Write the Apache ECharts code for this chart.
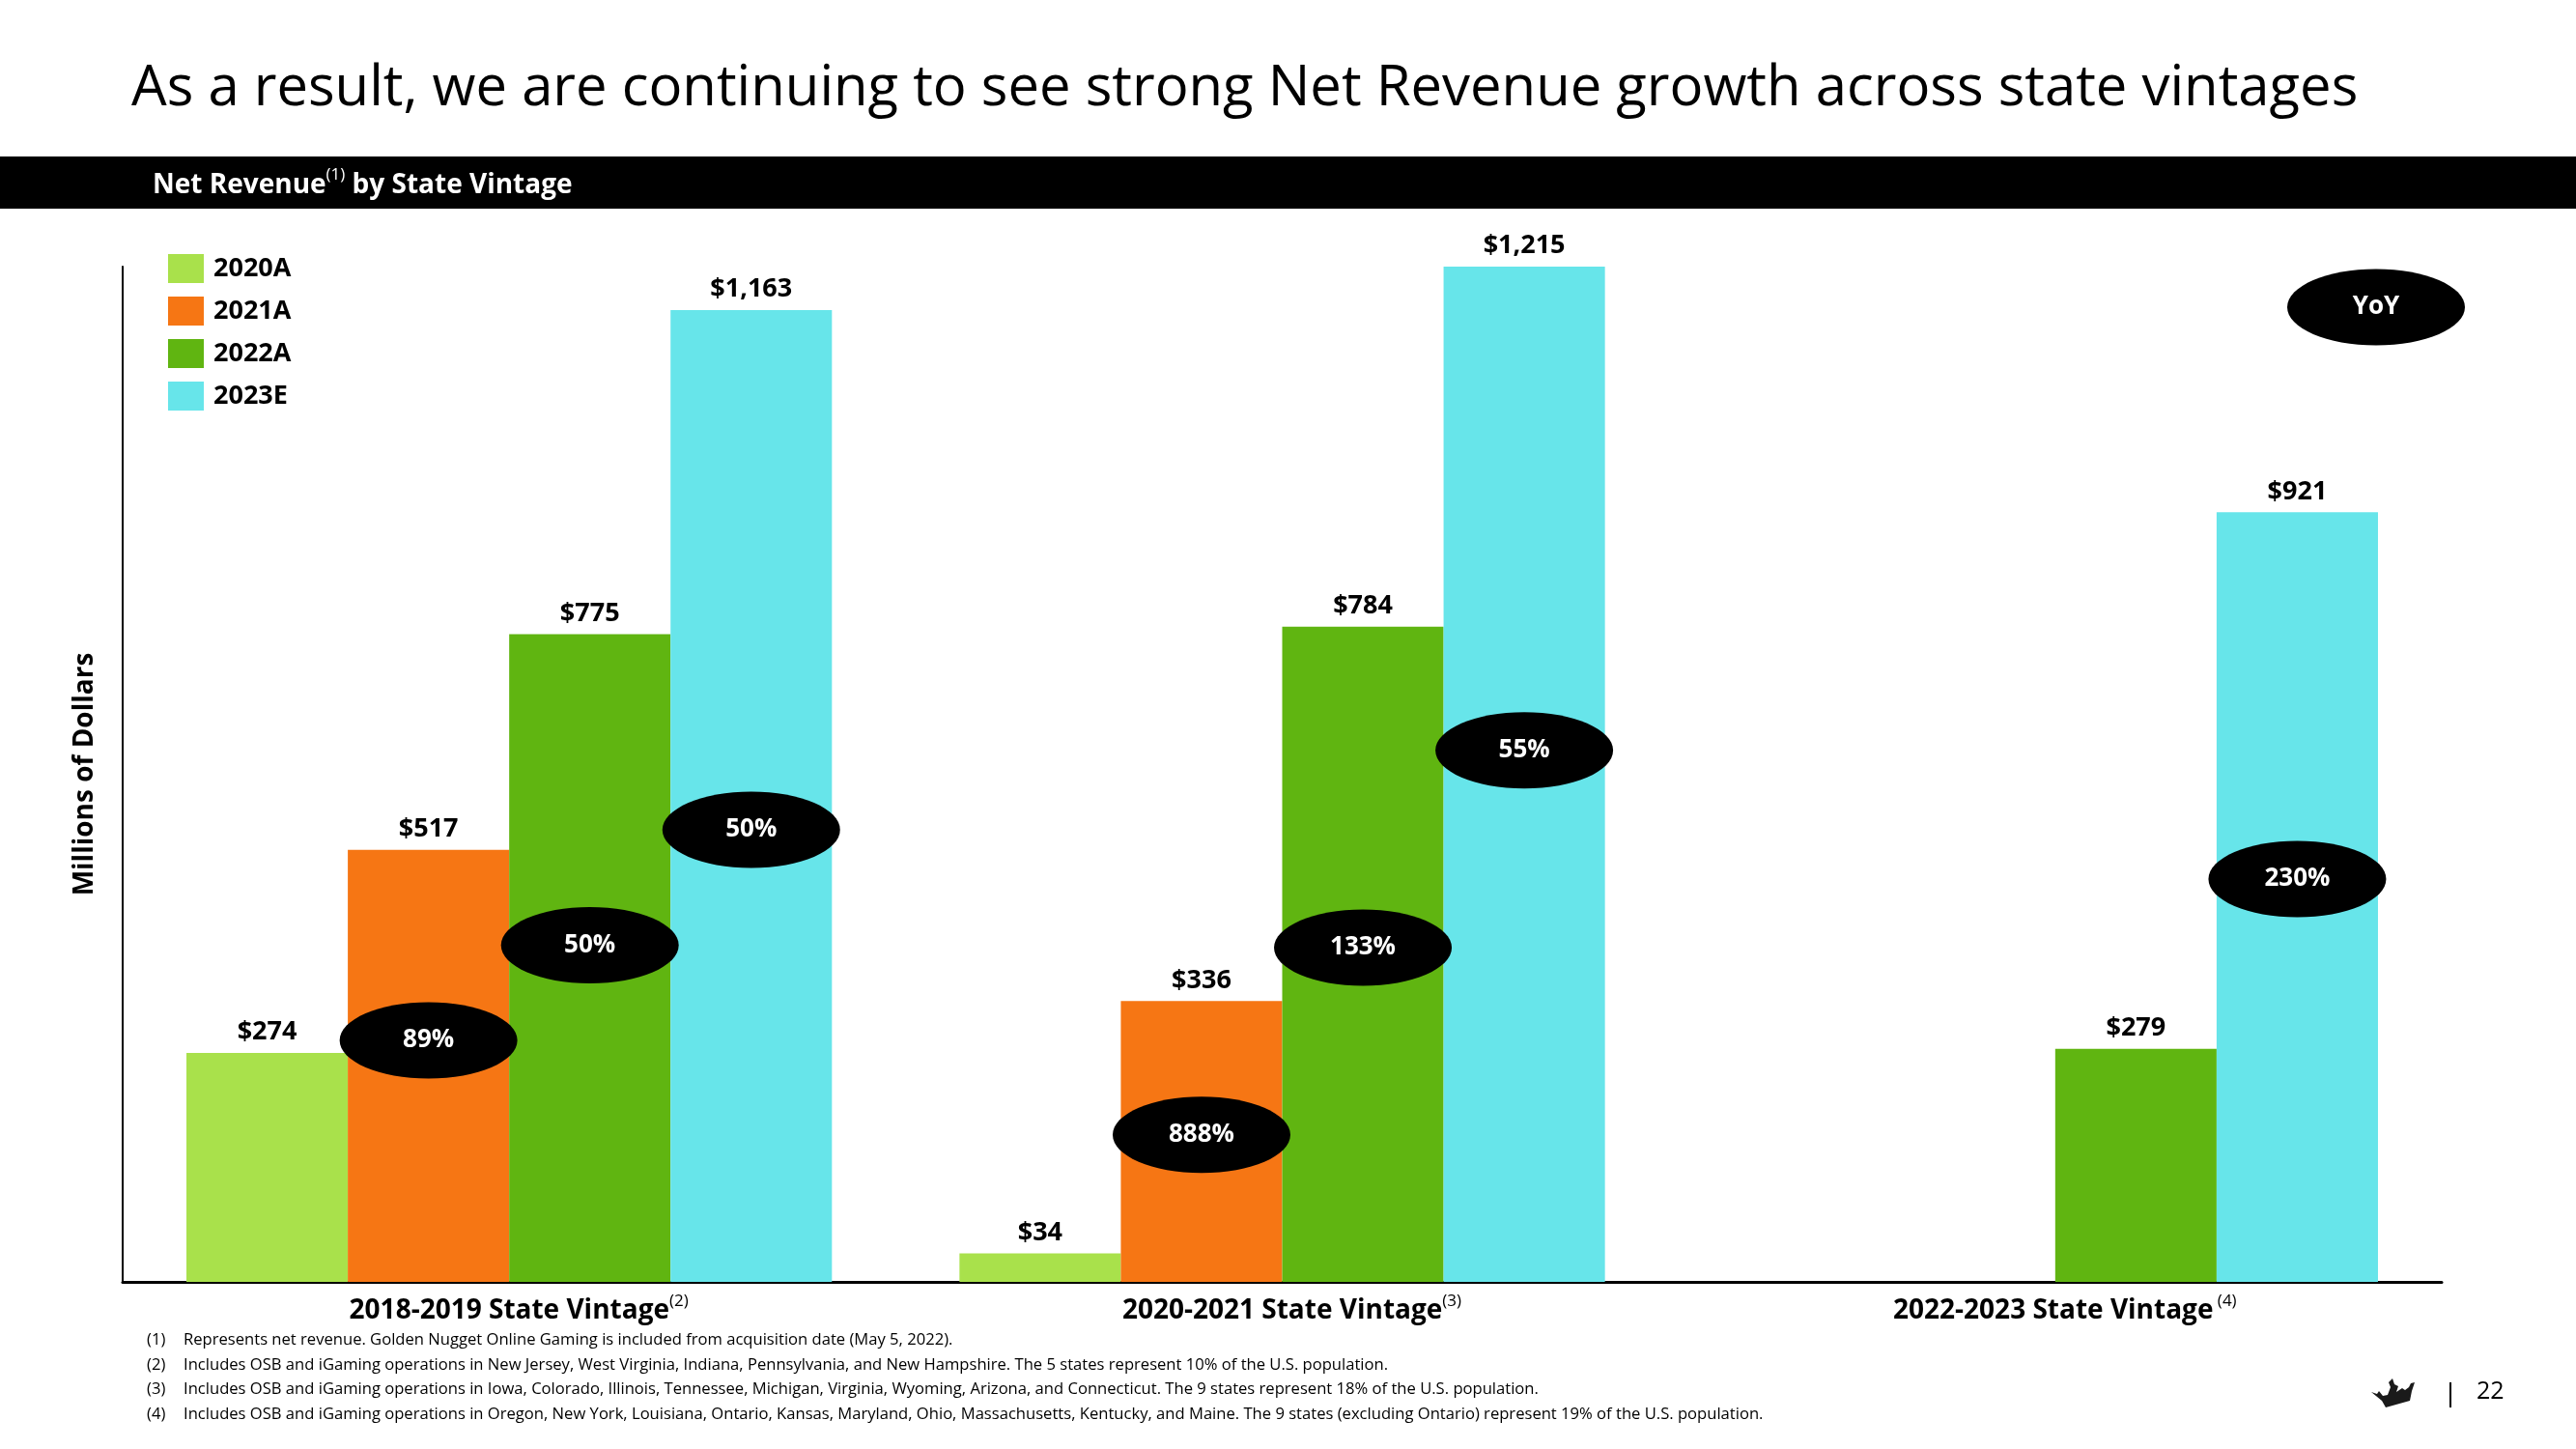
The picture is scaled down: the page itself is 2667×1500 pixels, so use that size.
<!DOCTYPE html>
<html><head><meta charset="utf-8">
<script src="https://cdn.jsdelivr.net/npm/echarts@6/dist/echarts.min.js"></script>
<style>html,body{margin:0;padding:0;background:#fff}#c{width:2667px;height:1500px}</style>
</head><body><div id="c"></div>
<script>
const categories = ['2018-2019 State Vintage', '2020-2021 State Vintage', '2022-2023 State Vintage'];
const categoryNotes = ['(2)', '(3)', ' (4)'];
const seriesNames = ['2020A', '2021A', '2022A', '2023E'];
const rev2020A = [274, 34, null];
const rev2021A = [517, 336, null];
const rev2022A = [775, 784, 279];
const rev2023E = [1163, 1215, 921];
const yoyCategoryIndex = [0, 0, 0, 1, 1, 1, 2];
const yoySeriesIndex = [1, 2, 3, 1, 2, 3, 3];
const yoyText = ['89%', '50%', '50%', '888%', '133%', '55%', '230%'];
const yoyLevel = [289, 403, 541, 176, 400, 636, 482];
const footnotes = [
  'Represents net revenue. Golden Nugget Online Gaming is included from acquisition date (May 5, 2022).',
  'Includes OSB and iGaming operations in New Jersey, West Virginia, Indiana, Pennsylvania, and New Hampshire. The 5 states represent 10% of the U.S. population.',
  'Includes OSB and iGaming operations in Iowa, Colorado, Illinois, Tennessee, Michigan, Virginia, Wyoming, Arizona, and Connecticut. The 9 states represent 18% of the U.S. population.',
  'Includes OSB and iGaming operations in Oregon, New York, Louisiana, Ontario, Kansas, Maryland, Ohio, Massachusetts, Kentucky, and Maine. The 9 states (excluding Ontario) represent 19% of the U.S. population.'
];
const colors = ['#A9E14B', '#F67614', '#60B511', '#67E5EA'];
const FONT = '"Open Sans", "Noto Sans", sans-serif';
const GAP = 0.165;

const chart = echarts.init(document.getElementById('c'), null, {renderer: 'canvas'});
const seriesData = [rev2020A, rev2021A, rev2022A, rev2023E];

const barSeries = seriesData.map((d, i) => ({
  name: seriesNames[i],
  type: 'bar',
  data: d,
  barGap: '0%',
  barCategoryGap: (GAP * 100) + '%',
  itemStyle: {color: colors[i]},
  label: {
    show: true, position: 'top', distance: 8,
    formatter: p => p.value == null ? '' : '$' + p.value.toLocaleString('en-US'),
    fontFamily: FONT, fontWeight: 'bold', fontSize: 27, color: '#000'
  }
}));

const yoyData = yoyText.map((t, i) => [yoyCategoryIndex[i], yoySeriesIndex[i], yoyLevel[i]]);

const footGraphics = [];
footnotes.forEach((f, i) => {
  const y = 1389 + i * 25.5;
  footGraphics.push({type: 'text', left: 152, top: y - 10, style: {text: '(' + (i + 1) + ')', font: '16.6px ' + FONT, fill: '#000'}});
  footGraphics.push({type: 'text', left: 190, top: y - 10, style: {text: f, font: '16.6px ' + FONT, fill: '#000'}});
});

chart.setOption({
  animation: false,
  backgroundColor: '#fff',
  color: colors,
  grid: {left: 127, right: 139, top: 276, bottom: 173, containLabel: false},
  legend: {
    orient: 'vertical', left: 169, top: 258,
    itemWidth: 37, itemHeight: 30, itemGap: 14,
    icon: 'rect',
    data: seriesNames,
    textStyle: {fontFamily: FONT, fontWeight: 'bold', fontSize: 27, color: '#000', padding: [0, 0, 0, 5]}
  },
  xAxis: {
    type: 'category',
    data: categories,
    axisTick: {show: false},
    axisLine: {lineStyle: {color: '#000', width: 3}},
    axisLabel: {
      margin: 12,
      padding: [0, 0, 0, 20],
      formatter: (v, i) => '{a|' + v + '}{s|' + categoryNotes[i] + '}',
      rich: {
        a: {fontFamily: FONT, fontWeight: 'bold', fontSize: 28, color: '#000', lineHeight: 36},
        s: {fontFamily: FONT, fontSize: 17, color: '#000', verticalAlign: 'top', lineHeight: 36, padding: [0, 0, 14, 0]}
      }
    }
  },
  yAxis: {
    type: 'value', min: 0, max: 1215,
    name: 'Millions of Dollars', nameLocation: 'middle', nameGap: 25, nameRotate: 90,
    nameTextStyle: {fontFamily: FONT, fontWeight: 'bold', fontSize: 28, color: '#000'},
    axisLine: {show: true, lineStyle: {color: '#000', width: 2}},
    axisTick: {show: false}, axisLabel: {show: false}, splitLine: {show: false}
  },
  series: barSeries.concat([{
    type: 'custom',
    z: 10,
    clip: false,
    data: yoyData,
    encode: {x: 0, y: 2},
    renderItem: (params, api) => {
      const cat = api.value(0), s = api.value(1), yv = api.value(2);
      const pt = api.coord([cat, yv]);
      const band = api.size([1, 0])[0];
      const barW = band * (1 - GAP) / 4;
      const cx = pt[0] + (s - 1.5) * barW;
      return {
        type: 'group',
        children: [
          {type: 'ellipse', shape: {cx: cx, cy: pt[1], rx: 92, ry: 39.5}, style: {fill: '#000'}},
          {type: 'text', style: {text: yoyText[params.dataIndex], x: cx, y: pt[1], align: 'center', verticalAlign: 'middle', fill: '#fff', font: 'bold 26px ' + FONT}}
        ]
      };
    }
  }]),
  graphic: [
    {type: 'text', left: 136, top: 63, style: {text: 'As a result, we are continuing to see strong Net Revenue growth across state vintages', font: '58px ' + FONT, fill: '#000'}},
    {type: 'rect', left: 0, top: 162, shape: {width: 2667, height: 54}, style: {fill: '#000'}},
    {type: 'text', left: 158, top: 173, style: {
      text: '{a|Net Revenue}{s|(1)}{a| by State Vintage}',
      rich: {
        a: {font: 'bold 28px ' + FONT, fill: '#fff', lineHeight: 38},
        s: {font: '17px ' + FONT, fill: '#fff', verticalAlign: 'top', lineHeight: 38, padding: [0, 0, 14, 0]}
      }
    }},
    {type: 'ellipse', shape: {cx: 2460, cy: 318, rx: 92, ry: 39.5}, style: {fill: '#000'}},
    {type: 'text', style: {text: 'YoY', x: 2460, y: 318, align: 'center', verticalAlign: 'middle', fill: '#fff', font: 'bold 26px ' + FONT}},
    {type: 'polygon', shape: {points: [[2455, 1441], [2461, 1443], [2463, 1440], [2467, 1445], [2472, 1444], [2475, 1436], [2473, 1431], [2477, 1427], [2479, 1433], [2483, 1435], [2481, 1441], [2487, 1437], [2490, 1439], [2494, 1436], [2496, 1432], [2500, 1431], [2497, 1440], [2495, 1450], [2470, 1457], [2466, 1450]]}, style: {fill: '#1a1a1a'}},
    {type: 'rect', shape: {x: 2536, y: 1431, width: 2, height: 26}, style: {fill: '#000'}},
    {type: 'text', left: 2564, top: 1428, style: {text: '22', font: '25px ' + FONT, fill: '#000'}}
  ].concat(footGraphics)
});
</script></body></html>
